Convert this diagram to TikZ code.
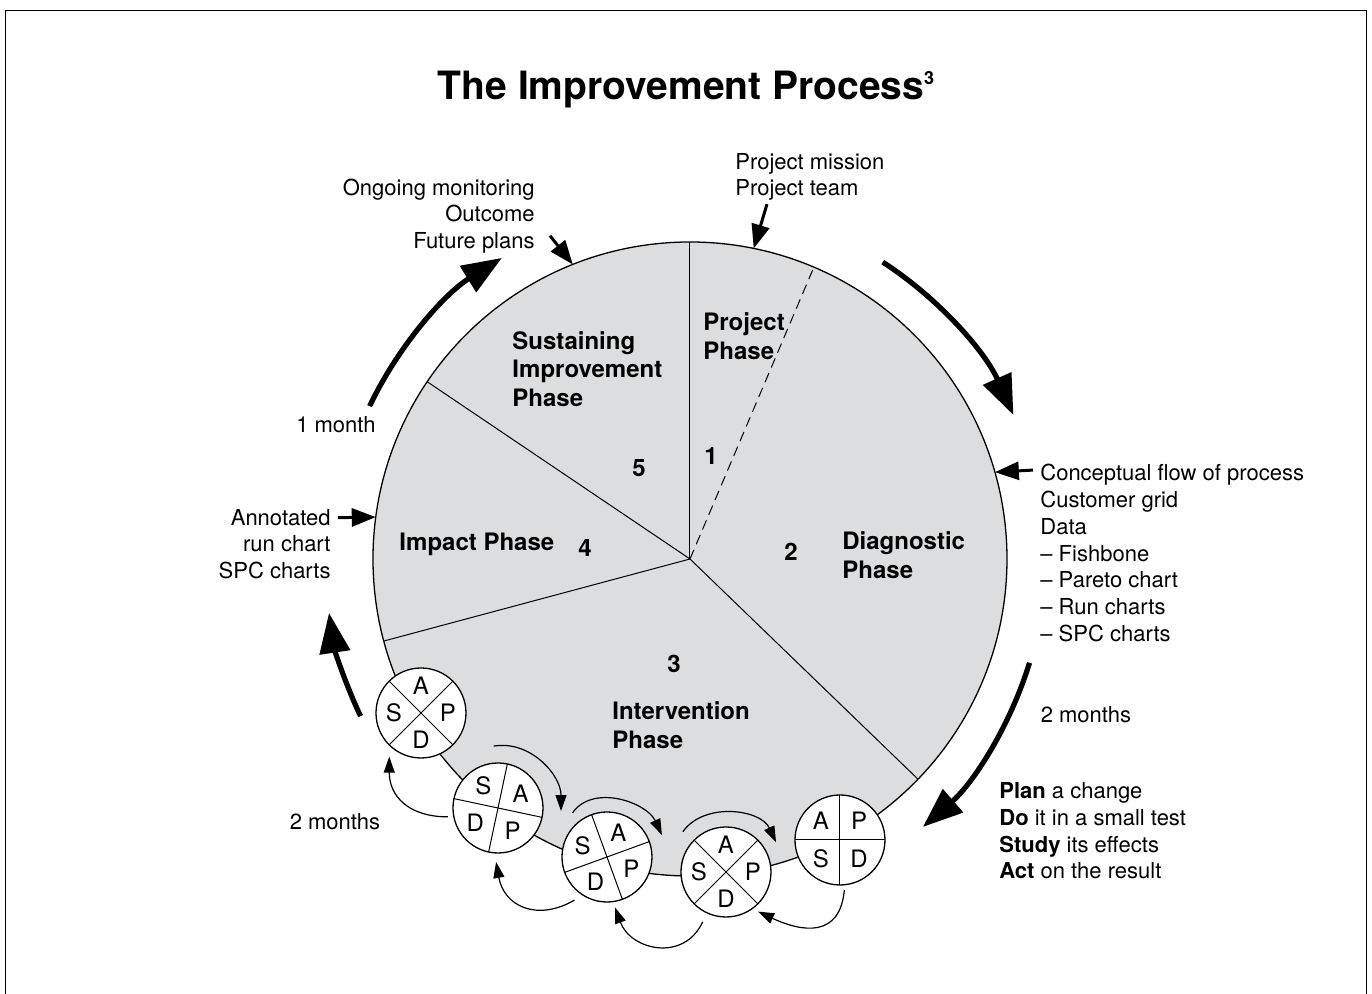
\documentclass[tikz,border=0pt]{standalone}
\usepackage{fontspec}
\setmainfont{TeX Gyre Heros}
\usetikzlibrary{arrows.meta}
\definecolor{phasegray}{RGB}{220,221,223}
\tikzset{
  txt/.style={inner sep=0pt, font={\fontsize{11pt}{13.35pt}\selectfont}},
  phase/.style={inner sep=0pt, font={\fontsize{12pt}{14.25pt}\selectfont\bfseries}},
  bigarrow/.style={line width=2.6pt, -{Triangle[length=20pt,width=15pt]}},
  pointer/.style={line width=1.5pt, -{Triangle[length=12pt,width=9pt]}},
  cyclearrow/.style={line width=0.6pt, -{Triangle[length=8pt,width=5.5pt]}},
  pdsacircle/.style={circle, draw, fill=white, line width=0.65pt, minimum size=45pt, inner sep=0pt},
  pdsaletter/.style={inner sep=0pt, font={\fontsize{12pt}{14pt}\selectfont}},
}
% one plan-do-study-act wheel: name, centre, turn of the cross
\newcommand{\pdsa}[3]{%
  \node[pdsacircle] (#1) at (#2) {};
  \draw[line width=0.5pt] ([shift={(#3:45)}]#1.center) -- ([shift={(#3+180:45)}]#1.center);
  \draw[line width=0.5pt] ([shift={(#3+90:45)}]#1.center) -- ([shift={(#3+270:45)}]#1.center);
  \node[pdsaletter] (#1-p) at ([shift={(#3+45:27)}]#1.center) {P};
  \node[pdsaletter] (#1-a) at ([shift={(#3+135:27)}]#1.center) {A};
  \node[pdsaletter] (#1-s) at ([shift={(#3+225:27)}]#1.center) {S};
  \node[pdsaletter] (#1-d) at ([shift={(#3+315:27)}]#1.center) {D};
}
\begin{document}
\begin{tikzpicture}[x=0.5pt,y=0.5pt]
	\useasboundingbox (-690,-435) rectangle (682,559);
	\draw[line width=0.5pt] (-684,-435) -- (-684,548) -- (676,548) -- (676,-435);
	\node[font={\fontsize{19.5pt}{23pt}\selectfont\bfseries}, inner sep=0pt] (title) at (-4,469) {The Improvement Process\raisebox{7.5pt}{\fontsize{9pt}{10pt}\selectfont 3}};
	% the pie
	\coordinate (o) at (0,0);
	\fill[phasegray] (o) circle (317);
	\draw[line width=0.5pt] (o) -- (90:317);
	\draw[line width=0.5pt] (o) -- (146:317);
	\draw[line width=0.5pt] (o) -- (195:317);
	\draw[line width=0.5pt] (o) -- (-44:317);
	\draw[line width=0.5pt, dash pattern=on 5pt off 3pt] (o) -- (67:317);
	\draw[line width=0.65pt] (o) circle (317);
	\node[phase, anchor=west, align=left] (project) at (13,223) {Project\\Phase};
	\node[phase, anchor=west, align=left] (sustain) at (-178,190) {Sustaining\\Improvement\\Phase};
	\node[phase, anchor=west] (impact) at (-291,15) {Impact Phase};
	\node[phase, anchor=west, align=left] (diag) at (152,4) {Diagnostic\\Phase};
	\node[phase, anchor=west, align=left] (interv) at (-78,-166) {Intervention\\Phase};
	\node[phase] (n1) at (21,103) {1};
	\node[phase] (n2) at (101,7) {2};
	\node[phase] (n3) at (-16,-105) {3};
	\node[phase] (n4) at (-105,11) {4};
	\node[phase] (n5) at (-51,91) {5};
	% notes round the pie
	\node[txt, anchor=west, align=left] (mission) at (45,382) {Project mission\\Project team};
	\node[txt, anchor=east, align=right] (plans) at (-155,343) {Ongoing monitoring\\Outcome\\Future plans};
	\node[txt, anchor=east, align=right] (anno) at (-359,15) {Annotated\\run chart\\SPC charts};
	\node[txt, anchor=west, align=left] (concept) at (350,6) {Conceptual flow of process\\Customer grid\\Data\\– Fishbone\\– Pareto chart\\– Run charts\\– SPC charts};
	\node[txt, anchor=west, align=left] (pdsatext) at (309,-272) {\textbf{Plan} a change\\\textbf{Do} it in a small test\\\textbf{Study} its effects\\\textbf{Act} on the result};
	\node[txt] (onemonth) at (-354,134) {1 month};
	\node[txt] (twoleft) at (-355,-263) {2 months};
	\node[txt] (tworight) at (396,-156) {2 months};
	\coordinate (pm) at (78.4:317);
	\coordinate (fp) at (111.7:317);
	\coordinate (an) at (172.4:317);
	\coordinate (cf) at (15.9:317);
	\draw[pointer] ([xshift=16pt,yshift=-1.5pt]mission.south west) -- (pm);
	\draw[pointer] ([xshift=7.5pt,yshift=9pt]plans.south east) -- (fp);
	\draw[pointer] ([xshift=3.5pt,yshift=-4.5pt]anno.north east) -- (an);
	\draw[pointer] ([xshift=-3.5pt,yshift=-3pt]concept.north west) -- (cf);
	% time arrows
	\draw[bigarrow] (57:354) arc (57:24:354);
	\draw[bigarrow] (-17:355) arc (-17:-49:355);
	\draw[bigarrow] (205.5:365) arc (205.5:188.5:365);
	\draw[bigarrow] (154.5:355) arc (154.5:122:355);
	% the wheels
	\pdsa{c1}{-269,-154}{-45}
	\pdsa{c2}{-192,-249}{-102}
	\pdsa{c3}{-83,-298}{-70}
	\pdsa{c4}{36,-313}{-45}
	\pdsa{c5}{150,-281}{0}
	\draw[cyclearrow] ([shift={(-85:50)}]c5.center) to[out=-95,in=-25,looseness=1.4] ([shift={(-51:51)}]c4.center);
	\draw[cyclearrow] ([shift={(-115:55)}]c4.center) to[out=-115,in=-70,looseness=1.3] ([shift={(-81:51)}]c3.center);
	\draw[cyclearrow] ([shift={(-127:54)}]c3.center) to[out=-150,in=-80,looseness=1.3] ([shift={(-92:54)}]c2.center);
	\draw[cyclearrow] ([shift={(190:51)}]c2.center) to[out=180,in=-90,looseness=1.2] ([shift={(234:54)}]c1.center);
	\draw[cyclearrow] ([shift={(94:62)}]c2.center) to[out=10,in=90] ([shift={(135:65)}]c3.center);
	\draw[cyclearrow] ([shift={(128:56)}]c3.center) to[out=55,in=115] ([shift={(150:74)}]c4.center);
	\draw[cyclearrow] ([shift={(137:59)}]c4.center) to[out=55,in=115] ([shift={(182:64)}]c5.center);
\end{tikzpicture}
\end{document}
